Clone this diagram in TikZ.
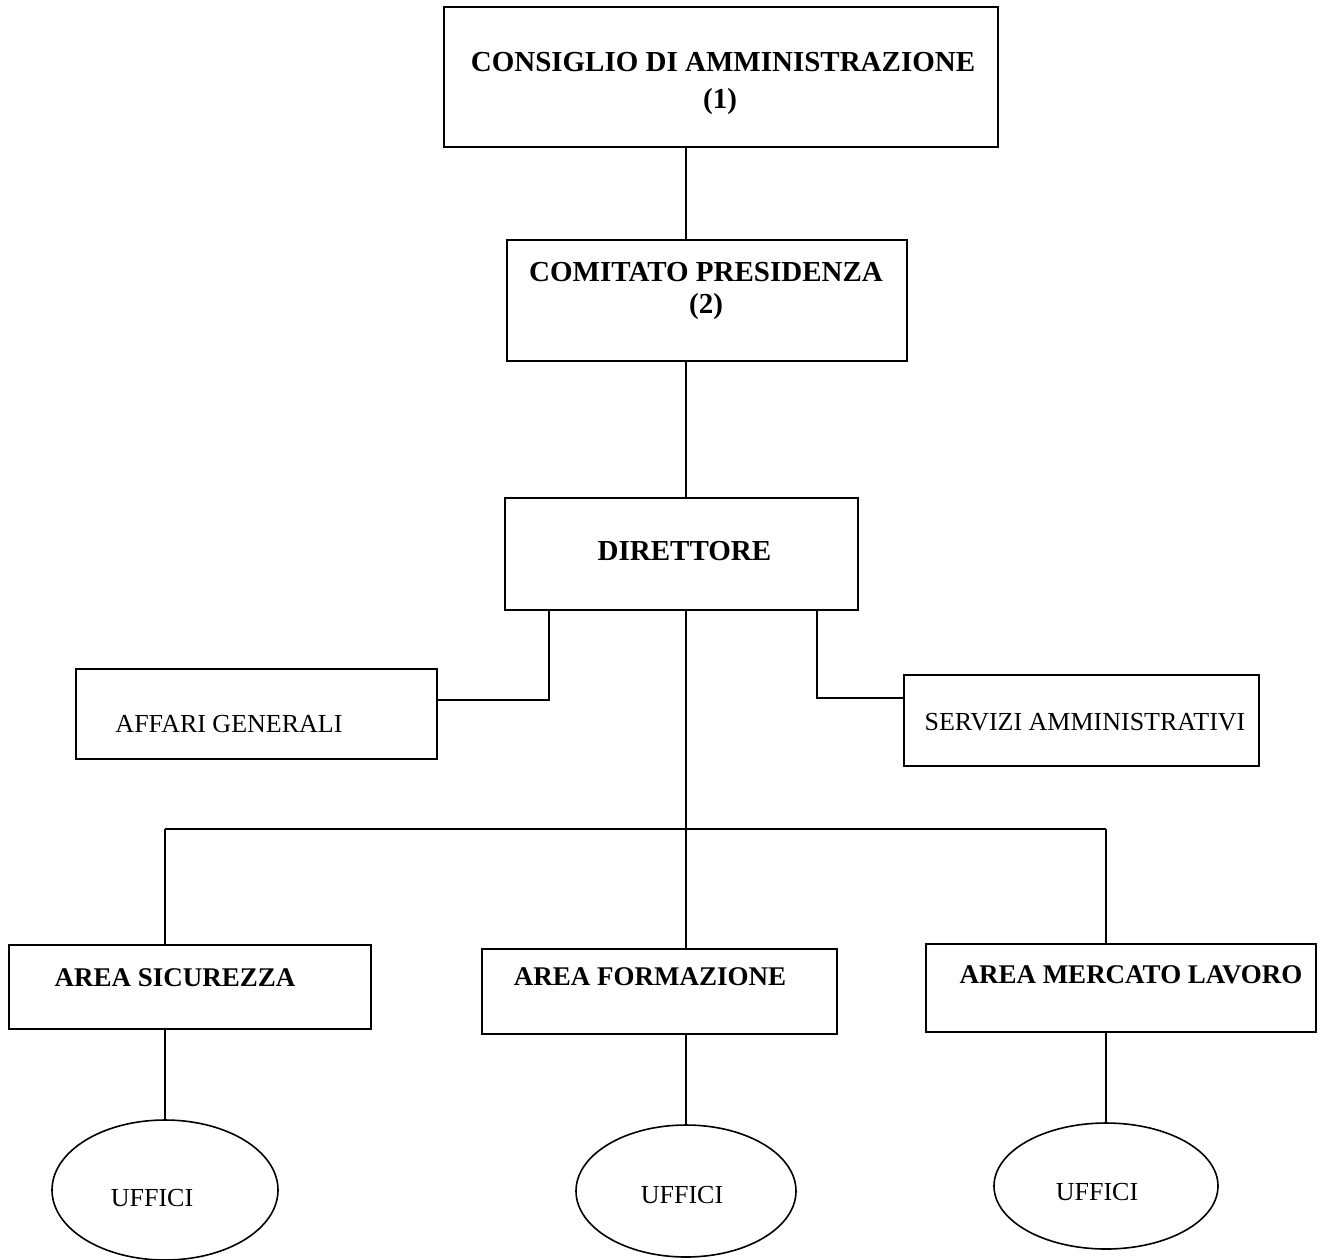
\documentclass[tikz,border=0pt]{standalone}
\usepackage{fontspec}
\setmainfont{Liberation Serif}
\usetikzlibrary{shapes.geometric}
\begin{document}
\begin{tikzpicture}[x=1pt,y=-1pt,line width=1.6pt,
  box/.style={draw,rectangle,inner sep=0pt},
  oval/.style={draw,ellipse,inner sep=0pt},
  big/.style={font=\fontsize{29}{31}\selectfont\bfseries,inner sep=0pt},
  mid/.style={font=\fontsize{27}{29}\selectfont\bfseries,inner sep=0pt},
  plain/.style={font=\fontsize{26}{28}\selectfont,inner sep=0pt}]
\useasboundingbox (0,0) rectangle (1335,1259);
\fill[white] (0,0) rectangle (1335,1259);
% boxes
\node[box,minimum width=554pt,minimum height=140pt] (cda) at (721,77) {};
\node[box,minimum width=400pt,minimum height=121pt] (cp) at (707,300.5) {};
\node[box,minimum width=353pt,minimum height=112pt] (dir) at (681.5,554) {};
\node[box,minimum width=361pt,minimum height=90pt] (ag) at (256.5,714) {};
\node[box,minimum width=355pt,minimum height=91pt] (sa) at (1081.5,720.5) {};
\node[box,minimum width=362pt,minimum height=84pt] (as) at (190,987) {};
\node[box,minimum width=355pt,minimum height=85pt] (af) at (659.5,991.5) {};
\node[box,minimum width=390pt,minimum height=88pt] (aml) at (1121,988) {};
\node[oval,minimum width=226pt,minimum height=140pt] (u1) at (165,1190) {};
\node[oval,minimum width=220pt,minimum height=132pt] (u2) at (686,1191) {};
\node[oval,minimum width=224pt,minimum height=126pt] (u3) at (1106,1186) {};
% texts
\node[big] (t1a) at (723,62) {CONSIGLIO DI AMMINISTRAZIONE};
\node[big] (t1b) at (720,102) {(1)};
\node[big] (t2a) at (706,272) {COMITATO PRESIDENZA};
\node[big] (t2b) at (706,307) {(2)};
\node[big] (t3) at (684.5,551) {DIRETTORE};
\node[plain] (t4) at (229,724) {AFFARI GENERALI};
\node[plain] (t5) at (1085,722) {SERVIZI AMMINISTRATIVI};
\node[mid] (t6) at (175,978) {AREA SICUREZZA};
\node[mid] (t7) at (650,977) {AREA FORMAZIONE};
\node[mid] (t8) at (1131,975) {AREA MERCATO LAVORO};
\node[plain] (t9) at (152,1198) {UFFICI};
\node[plain] (t10) at (682,1195) {UFFICI};
\node[plain] (t11) at (1097,1192) {UFFICI};
% connectors
\coordinate (spine) at (686,0);
\coordinate (jl) at (549,700);
\coordinate (jr) at (817,698);
\coordinate (bl) at (165,829);
\coordinate (br) at (1106,829);
\draw (cda.south -| spine) -- (cp.north -| spine);
\draw (cp.south -| spine) -- (dir.north -| spine);
\draw (dir.south -| jl) -- (jl) -- (ag.east |- jl);
\draw (dir.south -| jr) -- (jr) -- (sa.west |- jr);
\draw (dir.south -| spine) -- (af.north -| spine);
\draw (bl) -- (br);
\draw (bl) -- (as.north -| bl);
\draw (br) -- (aml.north -| br);
\draw (as.south -| bl) -- (u1.north);
\draw (af.south -| spine) -- (u2.north);
\draw (aml.south -| br) -- (u3.north);
\end{tikzpicture}
\end{document}
